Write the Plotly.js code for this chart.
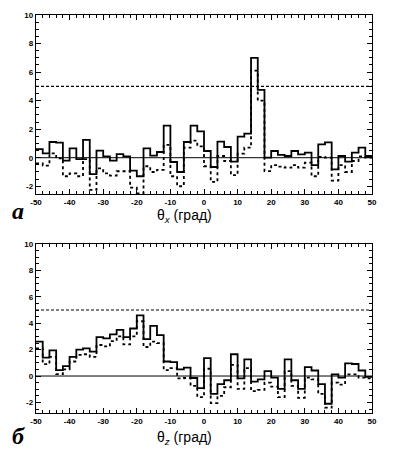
<!DOCTYPE html>
<html><head><meta charset="utf-8">
<script src="https://cdn.plot.ly/plotly-3.0.1.min.js"></script>
<style>html,body{margin:0;padding:0;background:#fff}#plot{width:398px;height:451px}</style>
</head><body><div id="plot"></div>
<script>
// bin edges, degrees
const binEdges = [-50,-48,-46,-44,-42,-40,-38,-36,-34,-32,-30,-28,-26,-24,-22,-20,-18,-16,-14,-12,-10,-8,-6,-4,-2,0,2,4,6,8,10,12,14,16,18,20,22,24,26,28,30,32,34,36,38,40,42,44,46,48,50];

// panel а (theta_x)
const aSolid = [0.6,0.3,1.1,1.05,-0.2,0.65,-0.1,1.25,-1.15,0.5,0.1,-0.2,0.25,0.1,-0.9,-1.3,0.65,0.15,0.4,2.25,-0.3,-1.0,1.1,2.25,1.85,0.47,-0.65,1.13,0.75,-0.28,1.48,1.69,7.0,4.75,0.0,0.47,0.2,0.12,0.47,0.23,0.35,-0.52,0.94,1.08,-0.82,0.12,-0.28,0.35,0.7,0.12];
const aDotted = [-0.4,-0.55,0.3,-0.05,-1.3,-1.1,-1.3,-0.1,-2.25,-0.75,-1.1,-1.25,-0.95,-0.95,-2.1,-2.5,-0.6,-1.0,-0.85,0.9,-1.3,-2.0,0.7,1.2,0.8,-0.6,-1.7,0.12,-0.23,-1.22,0.28,0.7,6.1,4.0,-0.94,-0.52,-0.63,-0.7,-0.52,-0.7,-0.35,-1.3,0.05,0.0,-1.6,-0.52,-1.0,-0.23,0.1,0.0];

// panel б (theta_z)
const bSolid = [2.6,1.4,1.95,0.45,0.75,1.45,2.0,2.1,1.85,2.95,2.85,3.15,3.5,2.95,3.6,4.6,2.8,3.8,3.1,1.1,1.05,0.5,0.63,-0.15,-0.92,1.35,-1.35,-0.62,-0.32,1.65,-0.17,1.26,-0.42,-0.25,0.37,-0.12,-0.98,1.26,-0.32,-0.98,0.67,0.42,-0.62,-2.1,0.12,-0.12,0.96,0.91,0.42,-0.07];
const bDotted = [2.1,0.9,1.45,0.15,0.5,1.1,1.6,1.65,1.45,2.35,2.25,2.65,3.0,2.4,3.0,4.15,2.2,2.6,2.5,0.45,0.6,-0.18,-0.15,-0.75,-1.6,0.55,-2.05,-1.5,-0.85,0.85,-0.98,0.6,-1.15,-1.05,-0.5,-0.8,-1.6,0.37,-0.75,-1.65,-0.12,-0.25,-1.35,-2.4,-0.5,-0.65,0.12,0.12,-0.12,-0.17];

const xTicks = [-50,-40,-30,-20,-10,0,10,20,30,40,50];
const yTicks = [-2,0,2,4,6,8,10];
const thresholdLevel = 5;

function stepY(v){ return v.concat([v[v.length-1]]); }

function trace(vals, xa, ya, dotted){
  return {x: binEdges, y: stepY(vals), xaxis: xa, yaxis: ya, type:'scatter', mode:'lines',
    line:{shape:'hv', color:'#000', width: 1.8, dash: dotted?'dot':'solid'}, hoverinfo:'skip'};
}

const data = [
  trace(aDotted,'x','y',true), trace(aSolid,'x','y',false),
  trace(bDotted,'x2','y2',true), trace(bSolid,'x2','y2',false)
];

const tf = {family:'Liberation Sans, Arial, sans-serif', size:8, color:'#000', weight:'bold'};
function xax(anchor){
  return {range:[-50,50], anchor:anchor, tickvals:xTicks, ticktext:xTicks.map(String),
    ticks:'inside', ticklen:5, tickwidth:1, tickcolor:'#000', showline:true, linecolor:'#000', linewidth:1.2,
    mirror:'allticks', showgrid:false, zeroline:false, tickfont:tf,
    minor:{dtick:2, tick0:0, ticks:'inside', ticklen:3, tickcolor:'#000', tickwidth:1}};
}
function yax(anchor, domain, lo){
  return {range:[lo,10], anchor:anchor, domain:domain, tickvals:yTicks, ticktext:yTicks.map(String),
    ticks:'inside', ticklen:5, tickwidth:1, tickcolor:'#000', showline:true, linecolor:'#000', linewidth:1.2,
    mirror:'allticks', showgrid:false, zeroline:false, tickfont:tf,
    minor:{dtick:0.5, tick0:0, ticks:'inside', ticklen:3, tickcolor:'#000', tickwidth:1}};
}

function hline(xr, yr, y, dash, w){
  return {type:'line', xref:xr, yref:yr, x0:-50, x1:50, y0:y, y1:y, line:{color:'#000', width:w, dash:dash}};
}

const titleFont = {family:'Liberation Sans, Arial, sans-serif', size:14, color:'#000'};
const layout = {
  width:398, height:451, paper_bgcolor:'#fff', plot_bgcolor:'#fff', showlegend:false,
  margin:{l:36, r:26, t:15, b:38},
  xaxis: Object.assign(xax('y'), {domain:[0,1]}),
  yaxis: yax('x',[0.55,1],-2.55),
  xaxis2: Object.assign(xax('y2'), {domain:[0,1.004]}),
  yaxis2: yax('x2',[0,0.4246],-2.8),
  shapes:[hline('x','y',0,'solid',1), hline('x','y',thresholdLevel,'3px,2px',1.2),
          hline('x2','y2',0,'solid',1), hline('x2','y2',thresholdLevel,'3px,2px',1.2)],
  annotations:[
    {xref:'paper', yref:'paper', x:(184-36)/336, y:(413-216)/398, text:'θ<sub><i>x</i></sub> (град)', showarrow:false,
     font:titleFont, xanchor:'center', yanchor:'middle'},
    {xref:'paper', yref:'paper', x:(184-36)/336, y:(413-438)/398, text:'θ<sub><i>z</i></sub> (град)', showarrow:false,
     font:titleFont, xanchor:'center', yanchor:'middle'},
    {xref:'paper', yref:'paper', x:(18-36)/336, y:(413-211)/398, text:'<b><i>а</i></b>', showarrow:false,
     font:{family:'Liberation Serif, Times New Roman, serif', size:24, color:'#000'}, xanchor:'center', yanchor:'middle'},
    {xref:'paper', yref:'paper', x:(18-36)/336, y:(413-436)/398, text:'<b><i>б</i></b>', showarrow:false,
     font:{family:'Liberation Serif, Times New Roman, serif', size:24, color:'#000'}, xanchor:'center', yanchor:'middle'}
  ]
};

Plotly.newPlot('plot', data, layout, {staticPlot:true, displayModeBar:false});
</script></body></html>
